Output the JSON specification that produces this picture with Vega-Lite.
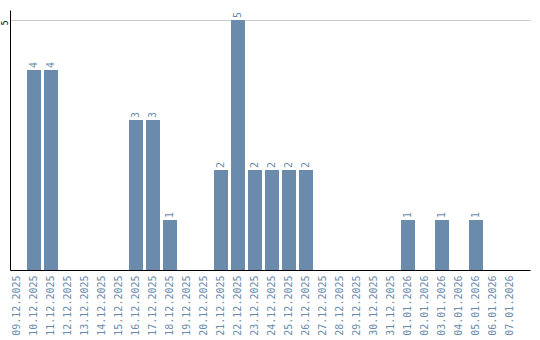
{
  "$schema": "https://vega.github.io/schema/vega-lite/v6.json",
  "width": 520,
  "height": 260,
  "autosize": {"type": "none"},
  "padding": {"left": 10, "top": 10, "right": 10, "bottom": 70},
  "config": {"view": {"stroke": null}, "font": "DejaVu Sans Mono"},
  "data": {"values": [
    {"d": "09.12.2025", "v": 0},
    {"d": "10.12.2025", "v": 4},
    {"d": "11.12.2025", "v": 4},
    {"d": "12.12.2025", "v": 0},
    {"d": "13.12.2025", "v": 0},
    {"d": "14.12.2025", "v": 0},
    {"d": "15.12.2025", "v": 0},
    {"d": "16.12.2025", "v": 3},
    {"d": "17.12.2025", "v": 3},
    {"d": "18.12.2025", "v": 1},
    {"d": "19.12.2025", "v": 0},
    {"d": "20.12.2025", "v": 0},
    {"d": "21.12.2025", "v": 2},
    {"d": "22.12.2025", "v": 5},
    {"d": "23.12.2025", "v": 2},
    {"d": "24.12.2025", "v": 2},
    {"d": "25.12.2025", "v": 2},
    {"d": "26.12.2025", "v": 2},
    {"d": "27.12.2025", "v": 0},
    {"d": "28.12.2025", "v": 0},
    {"d": "29.12.2025", "v": 0},
    {"d": "30.12.2025", "v": 0},
    {"d": "31.12.2025", "v": 0},
    {"d": "01.01.2026", "v": 1},
    {"d": "02.01.2026", "v": 0},
    {"d": "03.01.2026", "v": 1},
    {"d": "04.01.2026", "v": 0},
    {"d": "05.01.2026", "v": 1},
    {"d": "06.01.2026", "v": 0},
    {"d": "07.01.2026", "v": 0}
  ]},
  "encoding": {
    "x": {"field": "d", "type": "ordinal", "sort": null, "title": null,
      "scale": {"paddingInner": 0.176, "paddingOuter": 0.382, "align": 0},
      "axis": {"labelAngle": -90, "labelColor": "#6a8bab", "labelFontSize": 10, "ticks": false, "domainColor": "#000000", "labelPadding": 5, "labelAlign": "right", "labelBaseline": "middle"}},
    "y": {"field": "v", "type": "quantitative", "title": null,
      "scale": {"domain": [0, 5.2], "nice": false},
      "axis": {"values": [5], "labelAngle": -90, "labelColor": "#000000", "labelFontSize": 8, "ticks": false, "domainColor": "#000000", "gridColor": "#cccccc", "labelPadding": 3, "labelAlign": "right", "labelBaseline": "alphabetic"}}
  },
  "layer": [
    {"mark": {"type": "bar", "color": "#6a8bab"}},
    {"transform": [{"filter": "datum.v > 0"}],
     "mark": {"type": "text", "angle": -90, "align": "left", "baseline": "middle", "dx": 2, "color": "#6a8bab", "fontSize": 10},
     "encoding": {"text": {"field": "v", "type": "quantitative"}}}
  ]
}
